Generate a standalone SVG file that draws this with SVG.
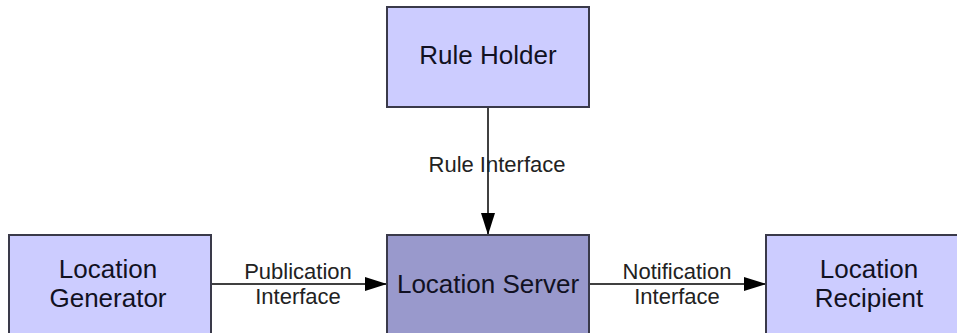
<svg xmlns="http://www.w3.org/2000/svg" width="957" height="333" viewBox="0 0 957 333">
  <style>
    .box { fill: #ccccff; stroke: #3a3a4a; stroke-width: 2; }
    .box.core { fill: #9999cc; }
    .name { font-family: "Liberation Sans", Arial, sans-serif; font-size: 26px; fill: #111122; text-anchor: middle; }
    .lbl { font-family: "Liberation Sans", Arial, sans-serif; font-size: 22px; fill: #222222; text-anchor: middle; }
    .edge { fill: none; stroke: #000000; stroke-width: 1.5; }
  </style>
  <defs>
    <marker id="arrow" markerUnits="userSpaceOnUse" markerWidth="22" markerHeight="14" refX="22" refY="7" orient="auto">
      <path d="M0,0 L22,7 L0,14 Z" fill="#000000"/>
    </marker>
  </defs>
  <rect width="957" height="333" fill="#ffffff"/>

  <g id="connectors">
    <line class="edge" x1="488" y1="107" x2="488" y2="235" marker-end="url(#arrow)"/>
    <line class="edge" x1="211" y1="284" x2="387" y2="284" marker-end="url(#arrow)"/>
    <line class="edge" x1="589" y1="284" x2="766" y2="284" marker-end="url(#arrow)"/>
    <text class="lbl" x="497" y="172">Rule Interface</text>
    <text class="lbl" x="298" y="279">Publication</text>
    <text class="lbl" x="298" y="304">Interface</text>
    <text class="lbl" x="677" y="279">Notification</text>
    <text class="lbl" x="677" y="304">Interface</text>
  </g>

  <g id="rule-holder">
    <rect class="box" x="387" y="7" width="202" height="100"/>
    <text class="name" x="488" y="64">Rule Holder</text>
  </g>

  <g id="location-generator">
    <rect class="box" x="9" y="235" width="202" height="102"/>
    <text class="name" x="108" y="278">Location</text>
    <text class="name" x="108" y="307">Generator</text>
  </g>

  <g id="location-server">
    <rect class="box core" x="387" y="235" width="202" height="102"/>
    <text class="name" x="488" y="293">Location Server</text>
  </g>

  <g id="location-recipient">
    <rect class="box" x="766" y="235" width="202" height="102"/>
    <text class="name" x="869" y="278">Location</text>
    <text class="name" x="869" y="307">Recipient</text>
  </g>
</svg>
